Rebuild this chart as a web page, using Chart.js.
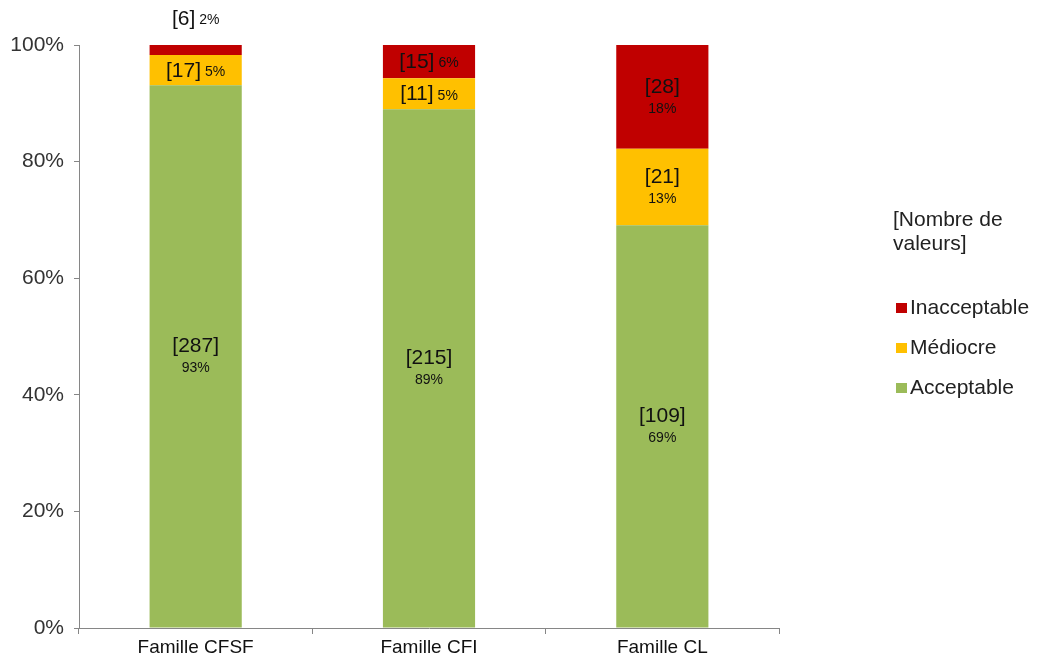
<!DOCTYPE html>
<html>
<head>
<meta charset="utf-8">
<script src="https://cdn.jsdelivr.net/npm/chart.js@4"></script>
<style>
html,body{margin:0;padding:0;background:#fff;}
#wrap{width:1041px;height:668px;position:relative;}
</style>
</head>
<body>
<div id="wrap"><canvas id="c" width="1041" height="668"></canvas></div>
<script>
const categories = ["Famille CFSF", "Famille CFI", "Famille CL"];
const seriesNames = ["Acceptable", "Médiocre", "Inacceptable"];
// counts shown in brackets
const acceptableCount = [287, 215, 109];
const mediocreCount = [17, 11, 21];
const inacceptableCount = [6, 15, 28];
// share of each category (%)
const acceptablePct = [93.1, 89.0, 69.1];
const mediocrePct = [5.2, 5.3, 13.1];
const inacceptablePct = [1.7, 5.7, 17.8];
// percentage labels as printed
const acceptableLbl = ["93%", "89%", "69%"];
const mediocreLbl = ["5%", "5%", "13%"];
const inacceptableLbl = ["2%", "6%", "18%"];
const yTicks = [0, 20, 40, 60, 80, 100];
const legendTitle = ["[Nombre de", "valeurs]"];

const colors = ["#9BBB59", "#FFC000", "#C00000"];
const FONT = "'Liberation Sans', Arial, sans-serif";
const CNT = '21px ' + FONT;
const PCT = '14px ' + FONT;

const counts = [acceptableCount, mediocreCount, inacceptableCount];
const lbls = [acceptableLbl, mediocreLbl, inacceptableLbl];

const labelPlugin = {
  id: 'barLabels',
  afterDatasetsDraw(chart) {
    const ctx = chart.ctx;
    ctx.save();
    ctx.fillStyle = '#111';
    ctx.textBaseline = 'middle';
    chart.data.datasets.forEach((ds, di) => {
      const meta = chart.getDatasetMeta(di);
      meta.data.forEach((bar, j) => {
        const top = Math.min(bar.y, bar.base), bot = Math.max(bar.y, bar.base);
        const h = bot - top;
        const cx = bar.x;
        const cTxt = '[' + counts[di][j] + ']';
        const pTxt = lbls[di][j];
        ctx.font = CNT;
        const wc = ctx.measureText(cTxt).width;
        ctx.font = PCT;
        const wp = ctx.measureText(pTxt).width;
        if (h >= 50) {
          const cy = (top + bot) / 2;
          ctx.textAlign = 'center';
          ctx.font = CNT;
          ctx.fillText(cTxt, cx, cy - 10);
          ctx.font = PCT;
          ctx.fillText(pTxt, cx, cy + 12);
        } else {
          let cy = (top + bot) / 2 + 1;
          if (h < 18) cy = 19;
          const total = wc + 4 + wp;
          let x0 = cx - total / 2;
          ctx.textAlign = 'left';
          ctx.font = CNT;
          ctx.fillText(cTxt, x0, cy);
          ctx.font = PCT;
          ctx.fillText(pTxt, x0 + wc + 4, cy + 1);
        }
      });
    });
    ctx.restore();
  },
  afterDraw(chart) {
    const ctx = chart.ctx;
    ctx.save();
    ctx.fillStyle = '#222';
    ctx.textBaseline = 'middle';
    ctx.textAlign = 'left';
    ctx.font = '21px ' + FONT;
    legendTitle.forEach((t, i) => ctx.fillText(t, 893, 220 + i * 24));
    const order = [2, 1, 0];
    order.forEach((si, k) => {
      const y = 308 + k * 40;
      ctx.fillStyle = colors[si];
      ctx.fillRect(896, y - 5, 11, 10);
      ctx.fillStyle = '#222';
      ctx.fillText(seriesNames[si], 910, y);
    });
    ctx.restore();
  }
};

new Chart(document.getElementById('c'), {
  type: 'bar',
  data: {
    labels: categories,
    datasets: [
      { label: seriesNames[0], data: acceptablePct, backgroundColor: colors[0] },
      { label: seriesNames[1], data: mediocrePct, backgroundColor: colors[1] },
      { label: seriesNames[2], data: inacceptablePct, backgroundColor: colors[2] }
    ].map(d => Object.assign(d, { categoryPercentage: 1, barPercentage: 0.395, borderWidth: 0 }))
  },
  options: {
    responsive: false,
    animation: false,
    layout: { padding: { top: 45, right: 262, left: 0, bottom: 0 } },
    plugins: { legend: { display: false }, tooltip: { enabled: false } },
    scales: {
      x: {
        stacked: true,
        grid: { display: true, drawOnChartArea: false, offset: true, tickLength: 6, color: '#868686' },
        border: { display: true, color: '#868686', width: 1 },
        ticks: { color: '#111', font: { size: 19, family: FONT }, padding: 2 },
        afterFit(s) { s.height = 40; }
      },
      y: {
        stacked: true,
        min: 0, max: 100,
        afterBuildTicks(s) { s.ticks = yTicks.map(v => ({ value: v })); },
        grid: { display: true, drawOnChartArea: false, tickLength: 5, color: '#868686' },
        border: { display: true, color: '#868686', width: 1 },
        ticks: { color: '#333', font: { size: 21, family: FONT }, padding: 10, callback: v => v + '%' },
        afterFit(s) { s.width = 79; }
      }
    }
  },
  plugins: [labelPlugin]
});
</script>
</body>
</html>
